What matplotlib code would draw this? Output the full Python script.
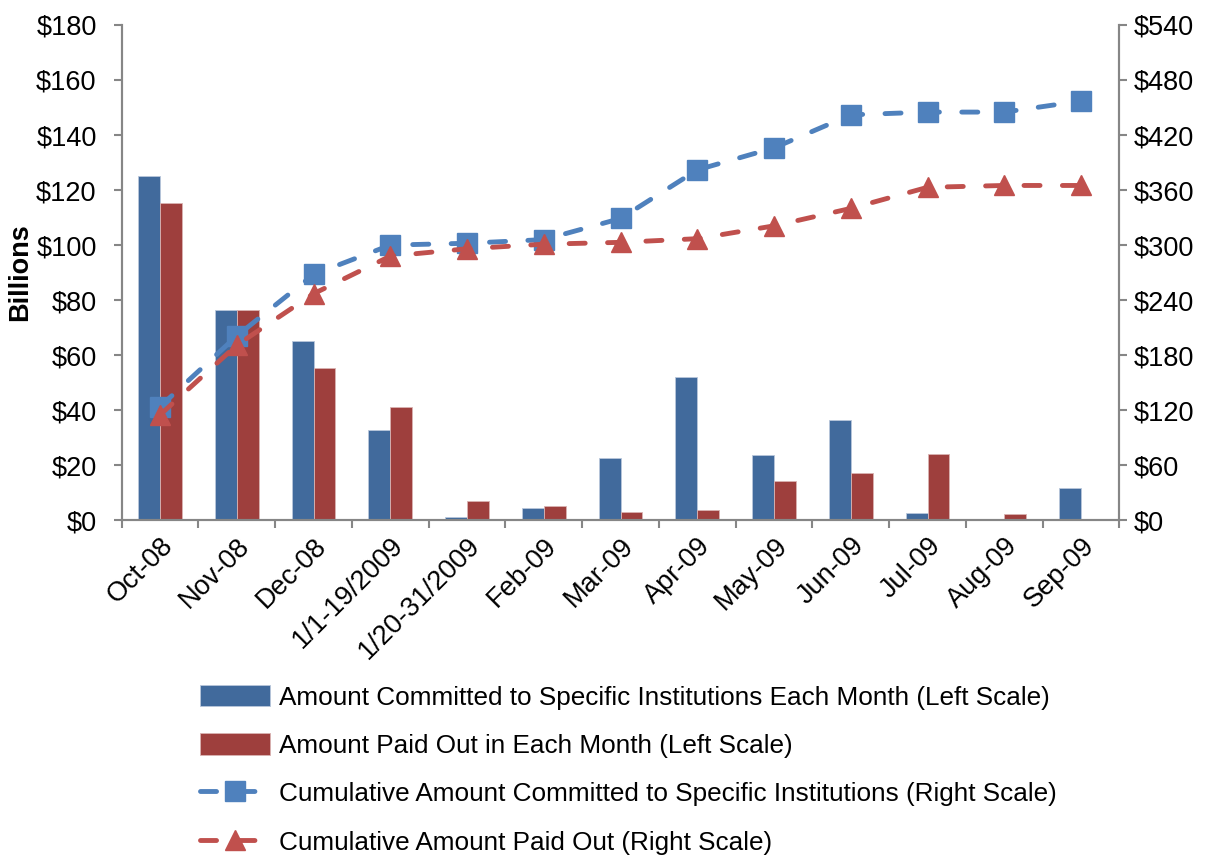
import numpy as np
import matplotlib
matplotlib.use('Agg')
import matplotlib.pyplot as plt
from matplotlib.ticker import FuncFormatter, MultipleLocator

plt.rcParams['font.family'] = ['Liberation Sans', 'DejaVu Sans']

months = ['Oct-08', 'Nov-08', 'Dec-08', '1/1-19/2009', '1/20-31/2009', 'Feb-09',
          'Mar-09', 'Apr-09', 'May-09', 'Jun-09', 'Jul-09', 'Aug-09', 'Sep-09']
committed = [125, 76.4, 65, 32.7, 1.1, 4.4, 22.7, 52, 23.6, 36.4, 2.5, 0, 11.6]
paid = [115.2, 76.4, 55.2, 41, 6.9, 5.1, 2.9, 3.7, 14.1, 17.1, 24, 2.2, 0]
cum_committed = [124, 201, 268, 300, 302, 306, 329, 382, 406, 442, 445, 445, 457]
cum_paid = [115, 191, 247, 288, 296, 301, 303, 307, 321, 340, 363, 365, 365]

bar_blue = '#416A9C'
bar_red = '#9E3F3D'
line_blue = '#4F81BD'
line_red = '#C0504D'
grey = '#868686'

fig = plt.figure(figsize=(12.05, 8.6), dpi=100)
ax = fig.add_axes([0.101, 0.395, 0.828, 0.576])
ax2 = ax.twinx()

x = np.arange(len(months))
w = 0.285
b1 = ax.bar(x - w/2, committed, w, color=bar_blue, edgecolor='#b9c7db', linewidth=0.6,
            label='Amount Committed to Specific Institutions Each Month (Left Scale)')
b2 = ax.bar(x + w/2, paid, w, color=bar_red, edgecolor='#d9b3b2', linewidth=0.6,
            label='Amount Paid Out in Each Month (Left Scale)')

l1, = ax2.plot(x, cum_committed, color=line_blue, lw=3.5, dashes=(3.3, 4.6),
               dash_capstyle='round', marker='s', markersize=14,
               label='Cumulative Amount Committed to Specific Institutions (Right Scale)')
l2, = ax2.plot(x, cum_paid, color=line_red, lw=3.5, dashes=(3.3, 4.6),
               dash_capstyle='round', marker='^', markersize=14,
               label='Cumulative Amount Paid Out (Right Scale)')

ax.set_xlim(-0.5, len(months) - 0.5)
ax.set_ylim(0, 180)
ax2.set_ylim(0, 540)
ax.yaxis.set_major_locator(MultipleLocator(20))
ax2.yaxis.set_major_locator(MultipleLocator(60))
fmt = FuncFormatter(lambda v, p: '${:d}'.format(int(round(v))))
ax.yaxis.set_major_formatter(fmt)
ax2.yaxis.set_major_formatter(fmt)

ax.set_xticks(x)
ax.set_xticklabels(months, rotation=45, ha='right', rotation_mode='anchor', fontsize=19.5)
ax.set_xticks(np.arange(len(months) + 1) - 0.5, minor=True)
ax.tick_params(axis='x', which='major', length=0, pad=9)
ax.tick_params(axis='x', which='minor', length=6, width=1.5, color=grey)
ax.tick_params(axis='y', length=6, width=1.5, color=grey, labelsize=19.5, pad=12)
ax2.tick_params(axis='y', length=6, width=1.5, color=grey, labelsize=19.5, pad=4)

for a in (ax, ax2):
    a.spines['top'].set_visible(False)
    for s in ('left', 'right', 'bottom'):
        a.spines[s].set_color(grey)
        a.spines[s].set_linewidth(1.5)

ax.set_ylabel('Billions', fontsize=19.5, fontweight='bold', labelpad=2)

fig.legend(handles=[b1, b2, l1, l2], loc='upper left', bbox_to_anchor=(0.157, 0.216),
           frameon=False, fontsize=18.8, handlelength=2.7, labelspacing=0.9,
           handletextpad=0.35, borderaxespad=0, handleheight=0.9)

fig.savefig('out.png', dpi=100)
